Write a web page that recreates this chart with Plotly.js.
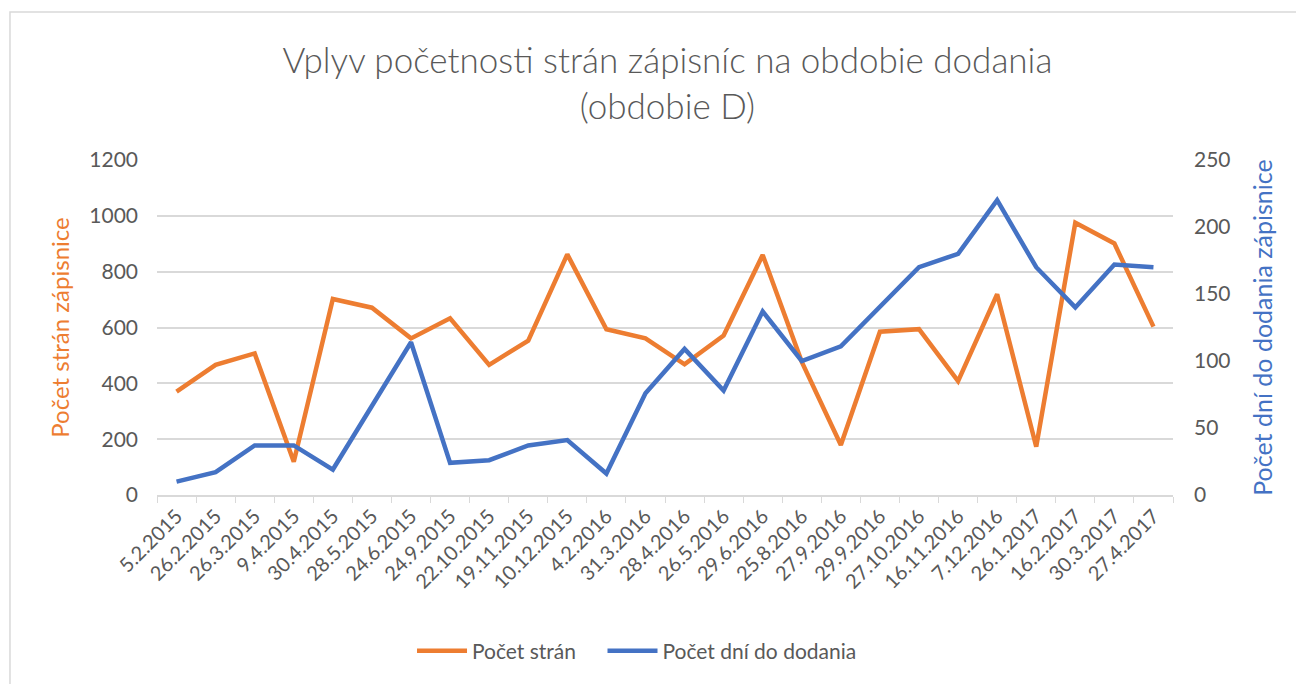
<!DOCTYPE html>
<html>
<head>
<meta charset="utf-8">
<script src="https://cdn.plot.ly/plotly-3.0.1.min.js"></script>
<style>
  body { margin: 0; background: #fff; }
  #plot { width: 1296px; height: 684px; }
</style>
</head>
<body>
<div id="plot"></div>
<script>
// dates of the meetings (categories)
var dates = ["5.2.2015", "26.2.2015", "26.3.2015", "9.4.2015", "30.4.2015", "28.5.2015",
  "24.6.2015", "24.9.2015", "22.10.2015", "19.11.2015", "10.12.2015", "4.2.2016",
  "31.3.2016", "28.4.2016", "26.5.2016", "29.6.2016", "25.8.2016", "27.9.2016",
  "29.9.2016", "27.10.2016", "16.11.2016", "7.12.2016", "26.1.2017", "16.2.2017",
  "30.3.2017", "27.4.2017"];

// pages of the minutes (left axis)
var pocetStran = [370, 466, 507, 119, 702, 671, 561, 633, 466, 553, 862, 594,
  561, 468, 571, 860, 477, 179, 585, 594, 408, 719, 173, 975, 901, 603];

// days until delivery (right axis)
var pocetDni = [10, 17, 37, 37, 19, 66, 114, 24, 26, 37, 41, 16,
  76, 109, 78, 137, 100, 111, 140, 170, 180, 220, 170, 140, 172, 170];

var grey = "#595959";
var fnt = "Lato, 'Open Sans', sans-serif";

var stran = {
  x: dates,
  y: pocetStran,
  name: "Počet strán\u00a0\u00a0\u00a0\u00a0",
  type: "scatter",
  mode: "lines",
  line: {color: "#ED7D31", width: 4.5}
};

var dni = {
  x: dates,
  y: pocetDni,
  name: "Počet dní do dodania",
  type: "scatter",
  mode: "lines",
  yaxis: "y2",
  line: {color: "#4472C4", width: 4.5}
};

var layout = {
  width: 1296,
  height: 684,
  margin: {l: 157, r: 123, t: 160, b: 189},
  paper_bgcolor: "#fff",
  plot_bgcolor: "#fff",
  font: {family: fnt, color: grey},
  title: {
    text: "Vplyv početnosti strán zápisníc na obdobie dodania<br>(obdobie D)",
    font: {size: 35, color: grey, family: fnt, weight: 300},
    x: 0.515,
    xanchor: "center",
    yref: "container",
    y: 0.893,
    yanchor: "middle"
  },
  xaxis: {
    type: "category",
    tickangle: -45,
    tickfont: {size: 20, color: grey},
    showgrid: false,
    showline: true,
    linecolor: "#d9d9d9",
    linewidth: 1.5,
    ticks: "outside",
    tickson: "boundaries",
    ticklen: 6,
    tickcolor: "#d9d9d9",
    range: [-0.5, 25.5]
  },
  yaxis: {
    range: [0, 1200],
    dtick: 200,
    tickfont: {size: 21, color: grey},
    gridcolor: "#d9d9d9",
    gridwidth: 1.5,
    zeroline: false,
    ticks: "",
    ticklabelstandoff: 18,
    title: {text: "Počet strán zápisnice", font: {size: 24, color: "#ED7D31"}, standoff: 12}
  },
  yaxis2: {
    range: [0, 250],
    dtick: 50,
    overlaying: "y",
    side: "right",
    showgrid: false,
    zeroline: false,
    ticks: "",
    ticklabelstandoff: 20,
    tickfont: {size: 21, color: grey},
    title: {text: "Počet dní do dodania zápisnice", font: {size: 25, color: "#4472C4"}, standoff: 24}
  },
  legend: {
    orientation: "h",
    x: 0.251,
    xanchor: "left",
    y: -0.466,
    yanchor: "middle",
    font: {size: 21, color: grey},
    itemwidth: 50
  },
  shapes: [{
    type: "rect",
    xref: "paper", yref: "paper",
    x0: -0.1447, x1: 1.25, y0: -0.7, y1: 1.4418,
    line: {color: "#d9d9d9", width: 1.5},
    layer: "below"
  }]
};

Plotly.newPlot("plot", [stran, dni], layout, {displayModeBar: false});
</script>
</body>
</html>
